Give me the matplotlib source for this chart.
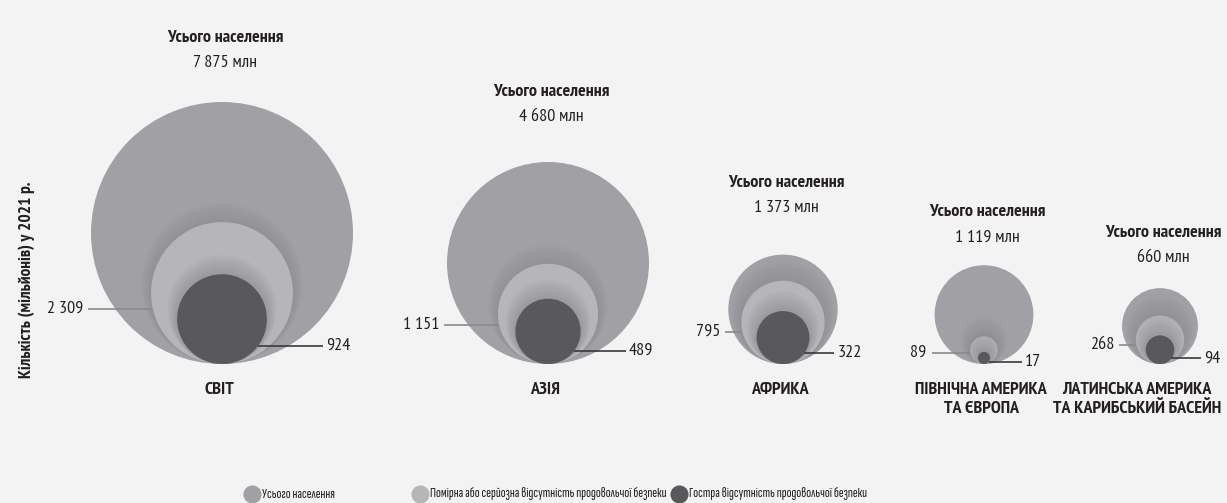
import numpy as np
import matplotlib
matplotlib.use("Agg")
import matplotlib.pyplot as plt
from matplotlib.patches import Circle

plt.rcParams['font.family'] = ['PT Sans Narrow', 'Roboto Condensed', 'DejaVu Sans']
plt.rcParams['font.stretch'] = 'condensed'
LEG_FONT = ['Sofia Sans Extra Condensed', 'Fira Sans Extra Condensed', 'Roboto Condensed', 'DejaVu Sans']

# data (millions, 2021)
regions = ["СВІТ", "АЗІЯ", "АФРИКА", "ПІВНІЧНА АМЕРИКА\nТА ЄВРОПА",
           "ЛАТИНСЬКА АМЕРИКА\nТА КАРИБСЬКИЙ БАСЕЙН"]
total = [7875, 4680, 1373, 1119, 660]
moderate = [2309, 1151, 795, 89, 268]
severe = [924, 489, 322, 17, 94]

legend_labels = ["Усього населення",
                 "Помірна або серйозна відсутність продовольчої безпеки",
                 "Гостра відсутність продовольчої безпеки"]

# layout (pixel coords)
x_centers = [222, 548, 783, 984, 1160]
title_gap = [64, 70, 72, 53, 55]   # title distance above circle top
baseline = 364
r_max = 131

BG = "#f3f3f3"
C_TOTAL = "#a1a1a5"
C_MOD = "#b6b6b8"
C_SEV = "#59595b"
TXT = "#231f20"

def fmt(v):
    return f"{v:,}".replace(",", " ")

k = r_max / np.sqrt(max(total))

fig = plt.figure(figsize=(12.27, 5.03), dpi=100, facecolor=BG)
ax = fig.add_axes([0, 0, 1, 1])
ax.set_facecolor(BG)
ax.set_xlim(0, 1227)
ax.set_ylim(503, 0)
ax.axis("off")


def shadow(ax, cx, r, color):
    # soft halo round the nested circle
    for i in range(6, 0, -1):
        rr = r + i * 1.6
        ax.add_patch(Circle((cx, baseline - rr), rr, color=color, alpha=0.04, lw=0))


name_texts = []
for i, name in enumerate(regions):
    cx = x_centers[i]
    r_t = k * np.sqrt(total[i])
    r_m = k * np.sqrt(moderate[i])
    r_s = k * np.sqrt(severe[i])

    ax.add_patch(Circle((cx, baseline - r_t), r_t, color=C_TOTAL, lw=0))
    shadow(ax, cx, r_m, "#6a6a6e")
    ax.add_patch(Circle((cx, baseline - r_m), r_m, color=C_MOD, lw=0))
    shadow(ax, cx, r_s, "#48484a")
    ax.add_patch(Circle((cx, baseline - r_s), r_s, color=C_SEV, lw=0))

    # total labels above
    top = baseline - 2 * r_t
    ax.text(cx + 3, top - title_gap[i], "Усього населення", ha="center", va="center",
            fontsize=13, fontweight="bold", color=TXT)
    ax.text(cx + 3, top - title_gap[i] + 25, f"{fmt(total[i])} млн", ha="center",
            va="center", fontsize=13, color=TXT)

    # moderate label (left)
    ym = baseline - 0.78 * r_m
    cym = baseline - r_m
    xm_edge = cx - np.sqrt(max(r_m ** 2 - (ym - cym) ** 2, 0))
    x0 = cx - r_t - 3
    ax.plot([x0, xm_edge], [ym, ym], color="#8a8a8c", lw=1.2, solid_capstyle="butt")
    ax.text(x0 - 5, ym, fmt(moderate[i]), ha="right", va="center",
            fontsize=13, color=TXT)

    # severe label (right)
    ys = baseline - 0.4 * r_s
    cys = baseline - r_s
    xs_edge = cx + np.sqrt(max(r_s ** 2 - (ys - cys) ** 2, 0))
    x1 = max(xs_edge + 30, cx + 0.77 * r_t)
    ax.plot([xs_edge, x1], [ys, ys], color="#3a3a3c", lw=1.2, solid_capstyle="butt")
    ax.text(x1 + 3, ys, fmt(severe[i]), ha="left", va="center",
            fontsize=13, color=TXT)

    # region name
    t = ax.text(cx - 3, 382, name, ha="center", va="top", fontsize=13,
                fontweight="bold", color=TXT, linespacing=1.25)
    name_texts.append(t)

# keep region names inside the right edge
fig.canvas.draw()
r = fig.canvas.get_renderer()
for t in name_texts:
    bb = t.get_window_extent(r)
    over = bb.x1 - (fig.bbox.width - 6)
    if over > 0:
        x, y = t.get_position()
        t.set_position((x - over, y))

# y axis label
ax.text(27, 280, "Кількість (мільйонів) у 2021 р.", rotation=90, ha="center",
        va="center", fontsize=12.5, fontweight="bold", color=TXT)

# legend
leg_x = [252, 420, 679]
leg_c = [C_TOTAL, C_MOD, C_SEV]
for lx, lc, lt in zip(leg_x, leg_c, legend_labels):
    ax.scatter([lx], [494], s=170, color=lc, lw=0)
    ax.text(lx + 10, 494, lt, ha="left", va="center", fontsize=10.5,
            family=LEG_FONT, color=TXT)

fig.savefig("out.png", dpi=100, facecolor=BG)
